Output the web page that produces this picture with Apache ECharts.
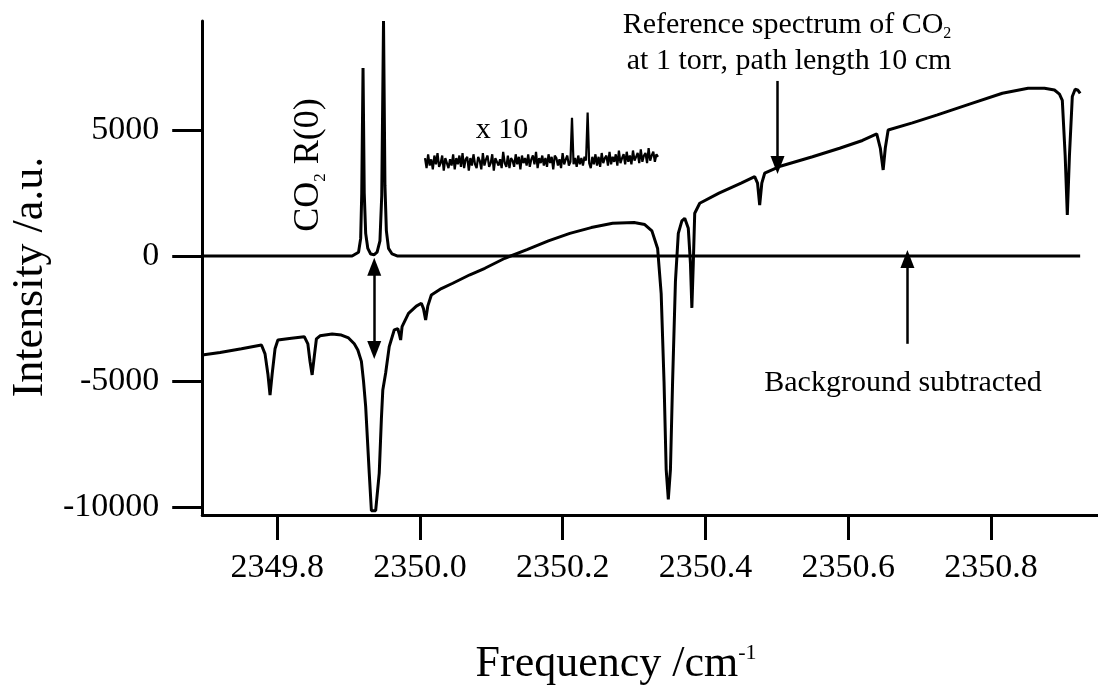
<!DOCTYPE html>
<html>
<head>
<meta charset="utf-8">
<script src="https://cdn.jsdelivr.net/npm/echarts@6/dist/echarts.min.js"></script>
<style>
  html, body { margin: 0; padding: 0; background: #fff; }
  #chart { width: 1098px; height: 691px; }
</style>
</head>
<body>
<div id="chart"></div>
<script>
// ---------- DATA ----------
const xTicks = [2349.8, 2350.0, 2350.2, 2350.4, 2350.6, 2350.8];
const yTicks = [-10000, -5000, 0, 5000];

// Reference spectrum of CO2 (1 torr, 10 cm)
const refFreq = [
  2349.695, 2349.72, 2349.75, 2349.778, 2349.783, 2349.787, 2349.790, 2349.793, 2349.797, 2349.801,
  2349.82, 2349.838, 2349.843, 2349.846, 2349.849, 2349.852, 2349.855, 2349.86, 2349.877, 2349.89,
  2349.900, 2349.908, 2349.913, 2349.918, 2349.921, 2349.924, 2349.929, 2349.932, 2349.938, 2349.943,
  2349.946, 2349.948, 2349.952, 2349.957, 2349.964, 2349.969, 2349.971, 2349.973, 2349.975, 2349.984,
  2349.995, 2350.002, 2350.005, 2350.008, 2350.011, 2350.016, 2350.03, 2350.046, 2350.07, 2350.091,
  2350.119, 2350.15, 2350.18, 2350.21, 2350.24, 2350.27, 2350.30, 2350.315, 2350.325, 2350.333,
  2350.338, 2350.342, 2350.345, 2350.348, 2350.351, 2350.354, 2350.358, 2350.362, 2350.367, 2350.371,
  2350.376, 2350.379, 2350.381, 2350.383, 2350.385, 2350.392, 2350.419, 2350.45, 2350.469, 2350.473,
  2350.476, 2350.479, 2350.483, 2350.506, 2350.55, 2350.588, 2350.62, 2350.640, 2350.645, 2350.649,
  2350.652, 2350.656, 2350.69, 2350.725, 2350.77, 2350.816, 2350.852, 2350.875, 2350.889, 2350.896,
  2350.900, 2350.904, 2350.907, 2350.910, 2350.914, 2350.918, 2350.922, 2350.925
];
const refIntensity = [
  -3944, -3850, -3700, -3546, -3900, -4700, -5540, -4700, -3700, -3350,
  -3280, -3215, -3500, -4200, -4740, -4000, -3300, -3180, -3108, -3150,
  -3267, -3500, -3745, -4200, -5000, -6000, -8650, -10150, -10150, -8650,
  -6500, -5340, -4660, -3613, -2948, -2900, -3100, -3347, -2816, -2284,
  -2000, -1886, -2100, -2550, -2000, -1554, -1300, -1088, -750, -490,
  -92, 250, 600, 900, 1130, 1300, 1330, 1250, 1000, 300,
  -1500, -5000, -8500, -9700, -8500, -5000, -1000, 900, 1400, 1500,
  1100, -300, -2070, -300, 1700, 2100, 2500, 2900, 3160, 2900,
  2030, 2900, 3295, 3585, 3950, 4290, 4600, 4860, 4300, 3426,
  4300, 5020, 5300, 5618, 6050, 6480, 6680, 6680, 6610, 6450,
  6200, 4000, 1630, 4000, 6350, 6640, 6600, 6480
];

// Background-subtracted signal (CO2 R(0) doublet)
const sigFreq = [
  2349.695, 2349.905, 2349.914, 2349.917, 2349.9185, 2349.9203, 2349.922, 2349.924, 2349.927, 2349.931,
  2349.936, 2349.940, 2349.944, 2349.9465, 2349.9490, 2349.951, 2349.953, 2349.956, 2349.961, 2349.968,
  2350.925
];
const sigIntensity = [
  0, 0, 150, 700, 2500, 7490, 2500, 900, 300, 80,
  50, 150, 600, 2400, 9360, 2800, 1000, 300, 80, 0,
  0
];

// "x 10" magnified trace (values in the main intensity scale, offset as drawn)
const insetValues = [
  3900, 3500, 4050, 3600, 3850, 3450, 4000, 3650, 4100, 3550,
  3700, 4000, 3400, 3900, 3950, 3500, 3850, 3600, 4050, 3450,
  3900, 3650, 4000, 3550, 4100, 3500, 3850, 3950, 3400, 3900,
  3600, 4050, 3650, 3500, 3950, 3800, 3450, 4100, 3600, 3850,
  4000, 3550, 3700, 4050, 3400, 3900, 3950, 3600, 3850, 3500,
  4150, 3700, 3550, 4000, 3500, 3900, 3800, 3550, 4050, 3650,
  3950, 3450, 4000, 3700, 3900, 3600, 4050, 3550, 3850, 4000,
  3650, 4150, 3500, 3900, 3700, 4000, 3600, 3900, 3550, 4050,
  3700, 3950, 3450, 4000, 3900, 3600, 3850, 3500, 4100, 3650,
  3850, 4000, 3600, 3750, 5500, 3650, 3900, 3550, 4000, 3650,
  3900, 3600, 3950, 3800, 5710, 3700, 3500, 3950, 3650, 4050,
  3600, 3950, 3550, 4100, 3700, 3900, 4000, 3600, 4150, 3650,
  3950, 3750, 4050, 3600, 4200, 3700, 3900, 4050, 3650, 4150,
  3750, 4000, 3650, 4200, 3800, 3950, 4100, 3700, 4250, 3750,
  4000, 4100, 3700, 4300, 3800, 4000, 4150, 3750, 4050, 3950
];

// ---------- CHART ----------
const FONT = "'Liberation Serif', 'Times New Roman', serif";
const zip = (a, b) => a.map((v, i) => [v, b[i]]);
const chart = echarts.init(document.getElementById('chart'), null, { renderer: 'canvas' });

const arrowLine = (x1, y1, x2, y2, both) => ({
  symbol: both ? ['triangle', 'triangle'] : ['none', 'triangle'],
  data: [[{ coord: [x1, y1] }, { coord: [x2, y2] }]]
});
const markBase = {
  silent: true, animation: false, symbolSize: [14, 18],
  label: { show: false }, emphasis: { disabled: true },
  lineStyle: { color: '#000', width: 2.5, type: 'solid' }
};

const option = {
  animation: false,
  backgroundColor: '#fff',
  grid: [
    { left: 180, right: 0, top: 21, bottom: 176, containLabel: false },
    { left: 425, width: 233, top: 21, bottom: 176, containLabel: false }
  ],
  xAxis: [
    {
      type: 'value', gridIndex: 0, min: 2349.695, max: 2350.95,
      name: 'Frequency /cm{sup|-1}', nameLocation: 'middle', nameGap: 127,
      nameTextStyle: {
        fontFamily: FONT, fontSize: 44, color: '#000', padding: [0, 68, 0, 0],
        rich: { sup: { fontFamily: FONT, fontSize: 22, color: '#000', verticalAlign: 'top', lineHeight: 44 } }
      },
      axisLine: { show: true, onZero: false, lineStyle: { color: '#000', width: 3 } },
      axisTick: { show: true, customValues: xTicks, length: 25, lineStyle: { color: '#000', width: 3 } },
      axisLabel: { show: true, customValues: xTicks, formatter: v => v.toFixed(1), fontFamily: FONT, fontSize: 34, color: '#000', margin: 36 },
      splitLine: { show: false }
    },
    {
      type: 'category', gridIndex: 1, show: false, boundaryGap: false,
      data: insetValues.map((v, i) => i)
    }
  ],
  yAxis: [
    {
      type: 'value', gridIndex: 0, min: -10320, max: 9360,
      name: 'Intensity /a.u.', nameLocation: 'middle', nameRotate: 90, nameGap: 130,
      nameTextStyle: { fontFamily: FONT, fontSize: 44, color: '#000', padding: [0, 18, 0, 0] },
      axisLine: { show: true, onZero: false, lineStyle: { color: '#000', width: 3 } },
      axisTick: { show: true, customValues: yTicks, length: 30, lineStyle: { color: '#000', width: 3 } },
      axisLabel: { show: true, customValues: yTicks, formatter: v => String(v), fontFamily: FONT, fontSize: 34, color: '#000', margin: 43 },
      splitLine: { show: false }
    },
    {
      type: 'value', gridIndex: 1, min: -10320, max: 9360, show: false
    }
  ],
  series: [
    {
      name: 'Reference', type: 'line', xAxisIndex: 0, yAxisIndex: 0,
      data: zip(refFreq, refIntensity), showSymbol: false, smooth: false,
      lineStyle: { color: '#000', width: 3 }, silent: true,
      markLine: Object.assign({}, markBase, arrowLine(2350.501, 6972, 2350.501, 3625, false))
    },
    {
      name: 'Signal', type: 'line', xAxisIndex: 0, yAxisIndex: 0,
      data: zip(sigFreq, sigIntensity), showSymbol: false, smooth: false,
      lineStyle: { color: '#000', width: 3 }, silent: true,
      markLine: Object.assign({}, markBase, arrowLine(2349.936, -3745, 2349.936, -426, true))
    },
    {
      name: 'SignalArrow', type: 'line', xAxisIndex: 0, yAxisIndex: 0,
      data: [], showSymbol: false, silent: true,
      markLine: Object.assign({}, markBase, arrowLine(2350.683, -3500, 2350.683, -120, false))
    },
    {
      name: 'x10', type: 'line', xAxisIndex: 1, yAxisIndex: 1,
      data: insetValues, showSymbol: false, smooth: false,
      lineStyle: { color: '#000', width: 2.2 }, silent: true
    }
  ],
  graphic: [
    {
      type: 'text', x: 309, y: 165, rotation: Math.PI / 2,
      style: {
        text: '{n|CO}{s|2}{n| R(0)}', align: 'center', verticalAlign: 'middle',
        rich: {
          n: { fontFamily: FONT, fontSize: 36, fill: '#000', lineHeight: 40 },
          s: { fontFamily: FONT, fontSize: 17, fill: '#000', lineHeight: 16, verticalAlign: 'bottom' }
        }
      }
    },
    {
      type: 'text', x: 502, y: 130,
      style: { text: 'x 10', fontFamily: FONT, fontSize: 30, fill: '#000', align: 'center', verticalAlign: 'middle' }
    },
    {
      type: 'text', x: 787, y: 25,
      style: {
        text: '{n|Reference spectrum of CO}{s|2}', align: 'center', verticalAlign: 'middle',
        rich: {
          n: { fontFamily: FONT, fontSize: 30, fill: '#000', lineHeight: 34 },
          s: { fontFamily: FONT, fontSize: 16, fill: '#000', lineHeight: 14, verticalAlign: 'bottom' }
        }
      }
    },
    {
      type: 'text', x: 789, y: 61,
      style: { text: 'at 1 torr, path length 10 cm', fontFamily: FONT, fontSize: 30, fill: '#000', align: 'center', verticalAlign: 'middle' }
    },
    {
      type: 'text', x: 903, y: 383,
      style: { text: 'Background subtracted', fontFamily: FONT, fontSize: 30, fill: '#000', align: 'center', verticalAlign: 'middle' }
    }
  ]
};
chart.setOption(option);
</script>
</body>
</html>
